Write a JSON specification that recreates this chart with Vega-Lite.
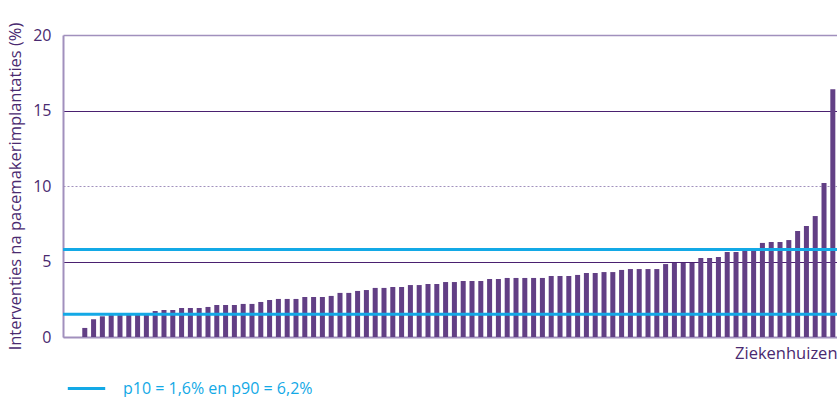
{
  "$schema": "https://vega.github.io/schema/vega-lite/v6.json",
  "width": 774,
  "height": 302,
  "autosize": "none",
  "padding": {"left": 63, "top": 35, "right": 0, "bottom": 60},
  "background": "white",
  "config": {
    "view": {"stroke": null},
    "font": "Open Sans",
    "axis": {"labelFont": "Open Sans", "titleFont": "Open Sans"}
  },
  "datasets": {
    "bars": [
      {"h": 1, "v": 0}, {"h": 2, "v": 0},
      {"h": 3, "v": 0.6}, {"h": 4, "v": 1.17}, {"h": 5, "v": 1.37}, {"h": 6, "v": 1.45}, {"h": 7, "v": 1.45},
      {"h": 8, "v": 1.5}, {"h": 9, "v": 1.5}, {"h": 10, "v": 1.5}, {"h": 11, "v": 1.72}, {"h": 12, "v": 1.79},
      {"h": 13, "v": 1.79}, {"h": 14, "v": 1.92}, {"h": 15, "v": 1.92}, {"h": 16, "v": 1.92}, {"h": 17, "v": 1.99},
      {"h": 18, "v": 2.12}, {"h": 19, "v": 2.12}, {"h": 20, "v": 2.12}, {"h": 21, "v": 2.19}, {"h": 22, "v": 2.19},
      {"h": 23, "v": 2.32}, {"h": 24, "v": 2.45}, {"h": 25, "v": 2.52}, {"h": 26, "v": 2.52}, {"h": 27, "v": 2.52},
      {"h": 28, "v": 2.65}, {"h": 29, "v": 2.65}, {"h": 30, "v": 2.65}, {"h": 31, "v": 2.72}, {"h": 32, "v": 2.92},
      {"h": 33, "v": 2.92}, {"h": 34, "v": 3.05}, {"h": 35, "v": 3.11}, {"h": 36, "v": 3.25}, {"h": 37, "v": 3.25},
      {"h": 38, "v": 3.31}, {"h": 39, "v": 3.31}, {"h": 40, "v": 3.44}, {"h": 41, "v": 3.44}, {"h": 42, "v": 3.51},
      {"h": 43, "v": 3.51}, {"h": 44, "v": 3.64}, {"h": 45, "v": 3.64}, {"h": 46, "v": 3.71}, {"h": 47, "v": 3.71},
      {"h": 48, "v": 3.71}, {"h": 49, "v": 3.84}, {"h": 50, "v": 3.84}, {"h": 51, "v": 3.91}, {"h": 52, "v": 3.91},
      {"h": 53, "v": 3.91}, {"h": 54, "v": 3.91}, {"h": 55, "v": 3.91}, {"h": 56, "v": 4.04}, {"h": 57, "v": 4.04},
      {"h": 58, "v": 4.04}, {"h": 59, "v": 4.11}, {"h": 60, "v": 4.24}, {"h": 61, "v": 4.24}, {"h": 62, "v": 4.3},
      {"h": 63, "v": 4.3}, {"h": 64, "v": 4.44}, {"h": 65, "v": 4.5}, {"h": 66, "v": 4.5}, {"h": 67, "v": 4.5},
      {"h": 68, "v": 4.5}, {"h": 69, "v": 4.83}, {"h": 70, "v": 4.9}, {"h": 71, "v": 4.9}, {"h": 72, "v": 4.9},
      {"h": 73, "v": 5.23}, {"h": 74, "v": 5.23}, {"h": 75, "v": 5.3}, {"h": 76, "v": 5.63}, {"h": 77, "v": 5.63},
      {"h": 78, "v": 5.7}, {"h": 79, "v": 5.78}, {"h": 80, "v": 6.23}, {"h": 81, "v": 6.29}, {"h": 82, "v": 6.29},
      {"h": 83, "v": 6.42}, {"h": 84, "v": 7.02}, {"h": 85, "v": 7.35}, {"h": 86, "v": 8.01}, {"h": 87, "v": 10.2},
      {"h": 88, "v": 16.4}
    ],
    "lines": [
      {"p": 1.5, "label": "p10 = 1,6% en p90 = 6,2%"},
      {"p": 5.8, "label": "p10 = 1,6% en p90 = 6,2%"}
    ]
  },
  "layer": [
    {
      "data": {"name": "bars"},
      "mark": {"type": "bar", "color": "#623f85"},
      "encoding": {
        "x": {
          "field": "h", "type": "ordinal",
          "scale": {"paddingInner": 0.43, "paddingOuter": 0.19},
          "axis": {
            "labels": false, "ticks": false, "title": "Ziekenhuizen",
            "titleAnchor": "end", "titleAlign": "right", "titleFontSize": 16.5, "titleFontWeight": "normal",
            "titleColor": "#4a2a70", "titlePadding": 8,
            "domainColor": "#a190bd", "domainWidth": 2
          }
        },
        "y": {
          "field": "v", "type": "quantitative",
          "scale": {"domain": [0, 20], "nice": false},
          "axis": {
            "values": [0, 5, 10, 15, 20],
            "title": "Interventies na pacemakerimplantaties (%)",
            "titleFontSize": 16.5, "titleFontWeight": "normal", "titleColor": "#4a2a70", "titlePadding": 9,
            "labelFontSize": 16, "labelColor": "#4a2a70", "labelPadding": 12,
            "ticks": false,
            "domainColor": "#a190bd", "domainWidth": 2,
            "grid": true,
            "gridColor": {"condition": [{"test": "datum.value === 10 || datum.value === 20 || datum.value === 0", "value": "#a190bd"}], "value": "#4a2070"},
            "gridDash": {"condition": {"test": "datum.value === 10", "value": [2, 2]}, "value": []},
            "gridWidth": {"condition": {"test": "datum.value === 20", "value": 1.5}, "value": 1}
          }
        }
      }
    },
    {
      "data": {"name": "lines"},
      "mark": {"type": "rule", "strokeWidth": 3},
      "encoding": {
        "y": {"field": "p", "type": "quantitative"},
        "color": {
          "field": "label", "type": "nominal",
          "scale": {"range": ["#13a9e6"]},
          "legend": {
            "title": null, "orient": "none", "legendX": 3, "legendY": 333,
            "symbolType": "stroke", "symbolSize": 1400, "symbolStrokeWidth": 3,
            "labelFontSize": 16, "labelColor": "#13a9e6", "labelOffset": 16, "labelLimit": 400
          }
        }
      }
    }
  ]
}
